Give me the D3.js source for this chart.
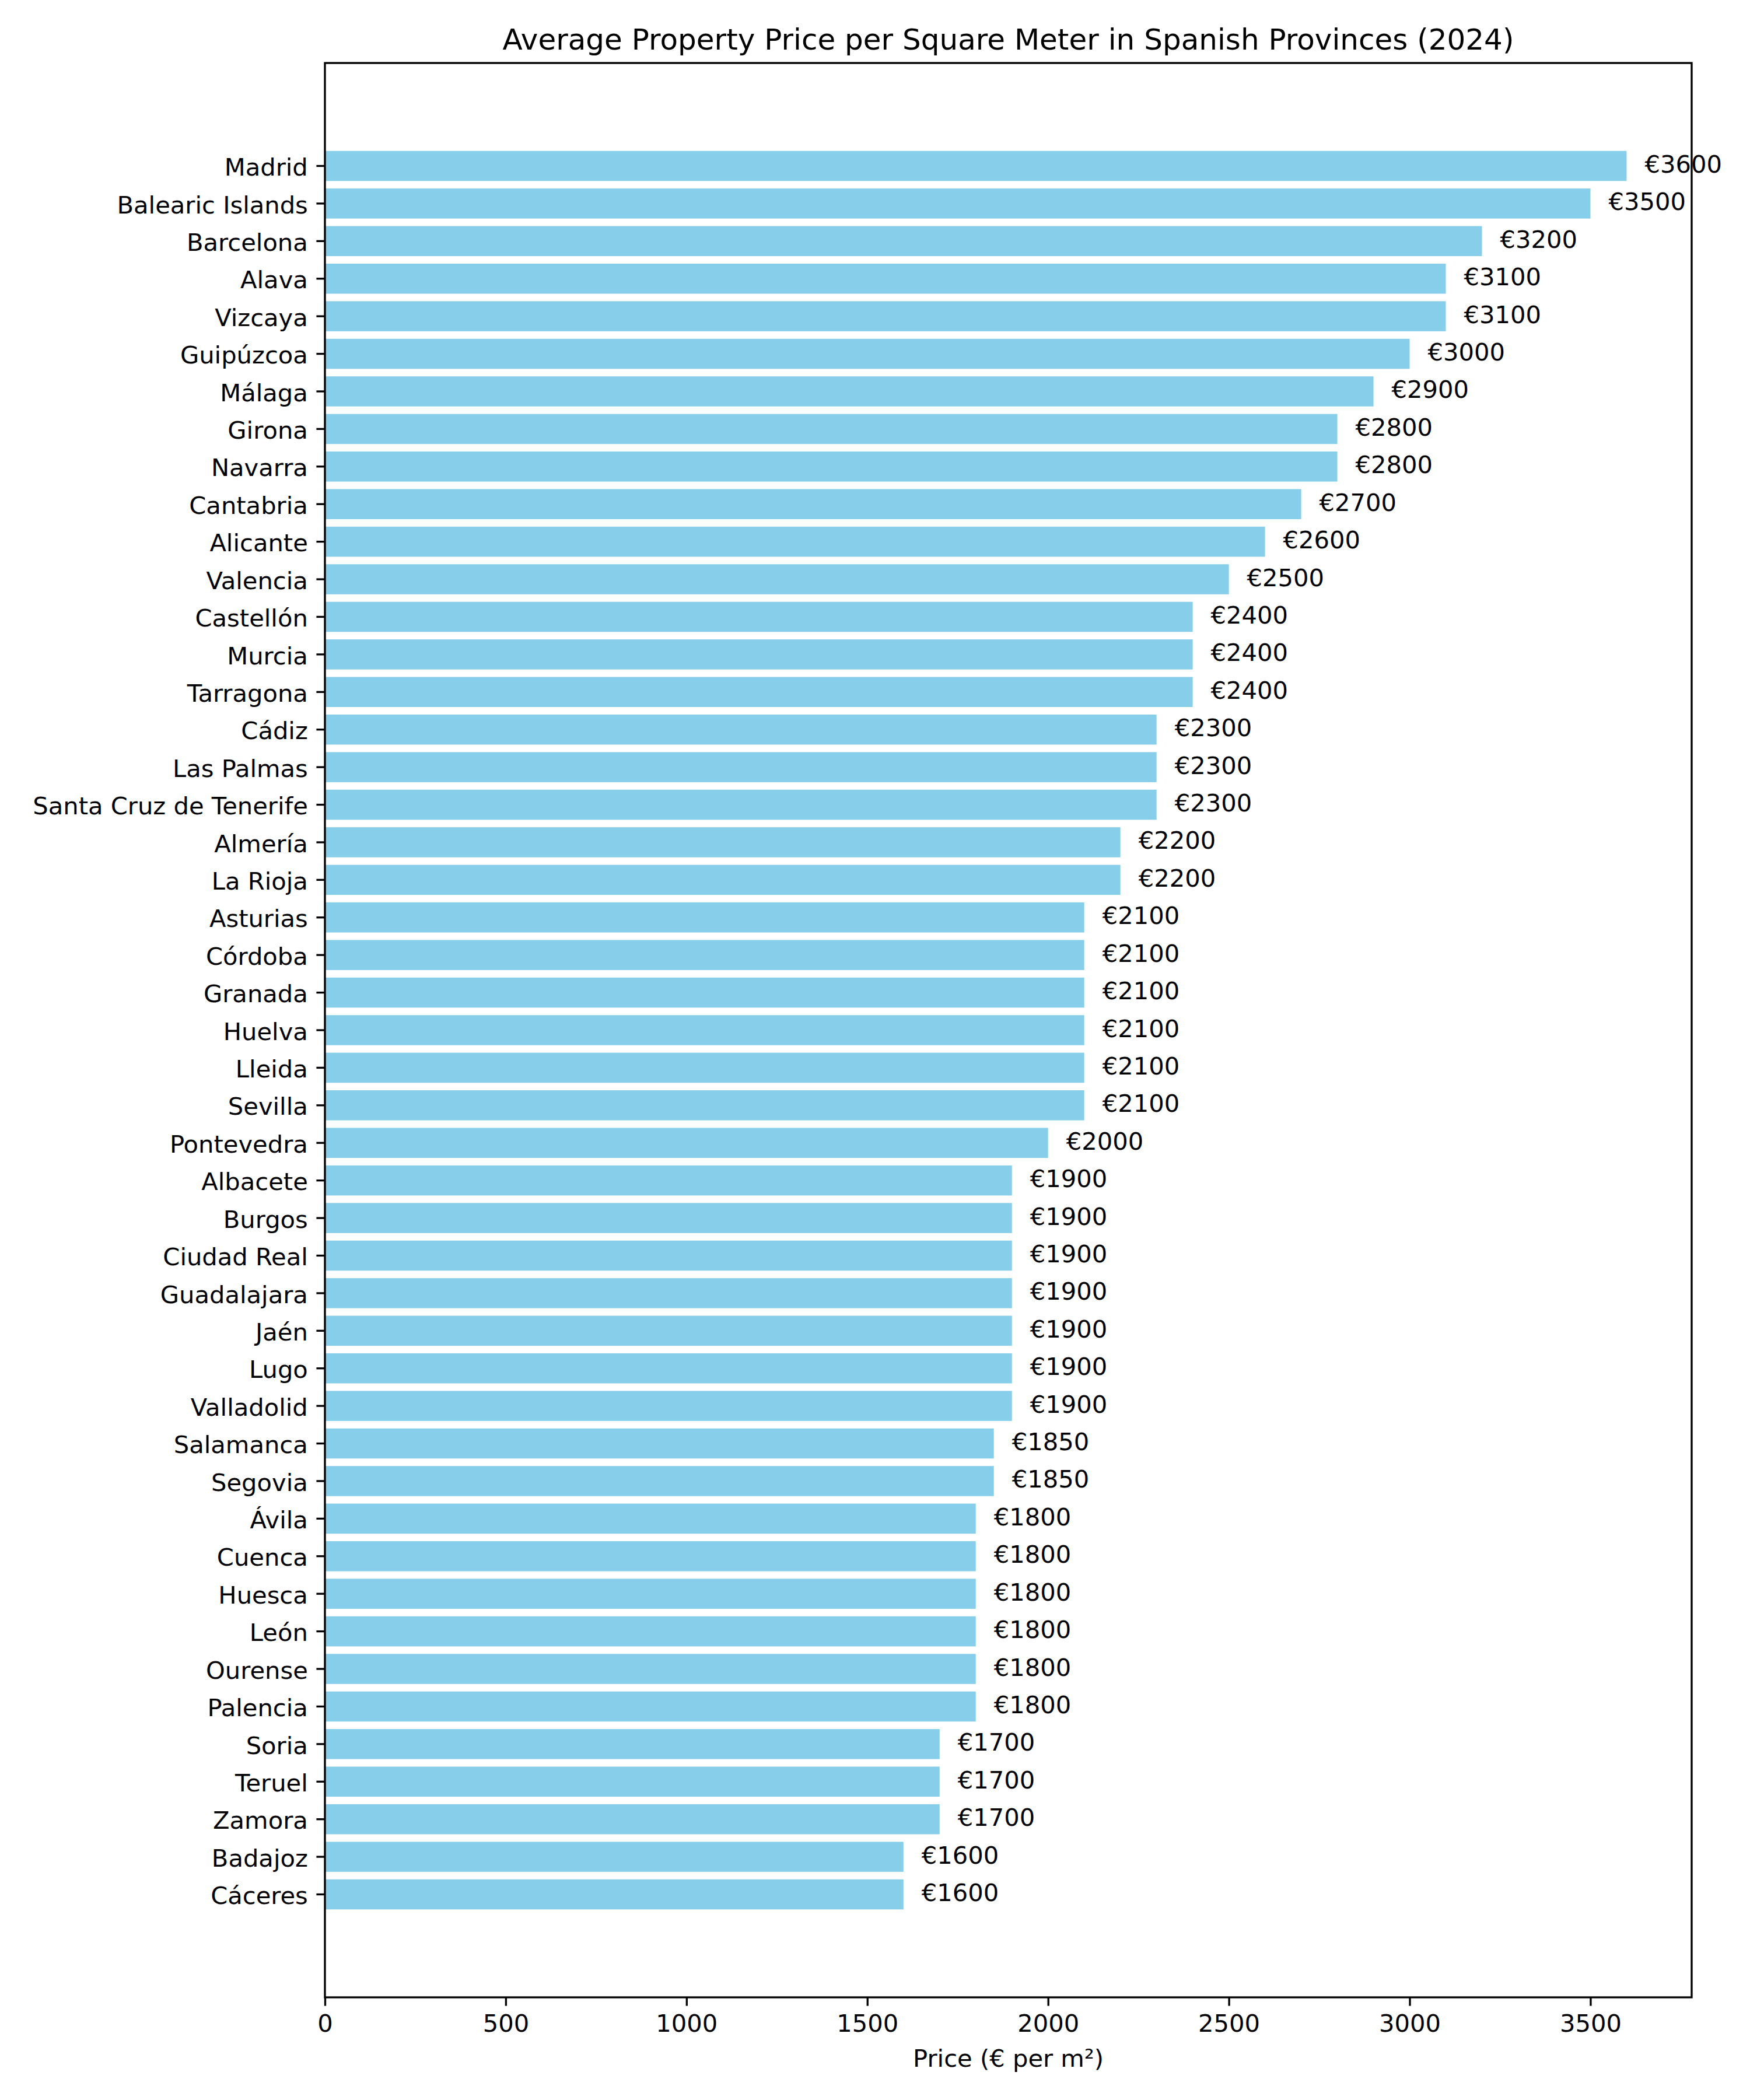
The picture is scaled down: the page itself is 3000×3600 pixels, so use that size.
<!DOCTYPE html>
<html>
<head>
<meta charset="utf-8">
<script src="https://cdn.jsdelivr.net/npm/d3@7"></script>
<style>
  body { margin: 0; background: #fff; }
  text { font-family: "DejaVu Sans", sans-serif; fill: #000; }
</style>
</head>
<body>
<div id="vis"></div>
<script>
// provinces, top to bottom
var provinces = ["Madrid", "Balearic Islands", "Barcelona", "Alava", "Vizcaya", "Guipúzcoa",
    "Málaga", "Girona", "Navarra", "Cantabria", "Alicante", "Valencia", "Castellón", "Murcia",
    "Tarragona", "Cádiz", "Las Palmas", "Santa Cruz de Tenerife", "Almería", "La Rioja",
    "Asturias", "Córdoba", "Granada", "Huelva", "Lleida", "Sevilla", "Pontevedra", "Albacete",
    "Burgos", "Ciudad Real", "Guadalajara", "Jaén", "Lugo", "Valladolid", "Salamanca", "Segovia",
    "Ávila", "Cuenca", "Huesca", "León", "Ourense", "Palencia", "Soria", "Teruel", "Zamora",
    "Badajoz", "Cáceres"];
var prices = [3600, 3500, 3200, 3100, 3100, 3000,
    2900, 2800, 2800, 2700, 2600, 2500, 2400, 2400,
    2400, 2300, 2300, 2300, 2200, 2200,
    2100, 2100, 2100, 2100, 2100, 2100, 2000, 1900,
    1900, 1900, 1900, 1900, 1900, 1900, 1850, 1850,
    1800, 1800, 1800, 1800, 1800, 1800, 1700, 1700, 1700,
    1600, 1600];
var xTicks = [0, 500, 1000, 1500, 2000, 2500, 3000, 3500];

const WIDTH = 3000;
const HEIGHT = 3600;
const LEFT = 557;
const RIGHT = 2900;
const TOP = 108;
const BOTTOM = 3424;
const FONT = 41.67;
const TICK_LEN = 14.6;
const LINE_W = 3.33;
const BAR_COLOR = "#87CEEB";

var data = provinces.map(function (p, i) { return { name: p, value: prices[i] }; });

var svg = d3.select("#vis").append("svg")
    .attr("width", WIDTH)
    .attr("height", HEIGHT);

var x = d3.scaleLinear()
    .domain([0, d3.max(prices) * 1.05])
    .range([LEFT, RIGHT]);

var y = d3.scaleBand()
    .domain(provinces)
    .range([TOP, BOTTOM])
    .paddingInner(0.2)
    .paddingOuter(2.34);

// bars
svg.append("g")
    .selectAll("rect")
    .data(data)
    .enter()
    .append("rect")
    .attr("x", x(0))
    .attr("y", function (d) { return y(d.name); })
    .attr("width", function (d) { return x(d.value) - x(0); })
    .attr("height", y.bandwidth())
    .attr("fill", BAR_COLOR);

// value labels
svg.append("g")
    .selectAll("text")
    .data(data)
    .enter()
    .append("text")
    .attr("x", function (d) { return x(d.value + 50); })
    .attr("y", function (d) { return y(d.name) + y.bandwidth() / 2 + 11.5; })
    .attr("font-size", FONT + "px")
    .text(function (d) { return "€" + d.value; });

// x axis
var xAxis = svg.append("g")
    .attr("transform", "translate(0," + BOTTOM + ")")
    .call(d3.axisBottom(x).tickValues(xTicks).tickFormat(d3.format("d"))
        .tickSize(TICK_LEN).tickPadding(TICK_LEN).tickSizeOuter(0));
xAxis.select(".domain").remove();
xAxis.selectAll("line").attr("stroke-width", LINE_W);
xAxis.selectAll("text")
    .attr("font-size", FONT + "px")
    .attr("font-family", "DejaVu Sans");

// y axis
var yAxis = svg.append("g")
    .attr("transform", "translate(" + LEFT + ",0)")
    .call(d3.axisLeft(y).tickSize(TICK_LEN).tickPadding(TICK_LEN).tickSizeOuter(0));
yAxis.select(".domain").remove();
yAxis.selectAll("line").attr("stroke-width", LINE_W);
yAxis.selectAll("text")
    .attr("font-size", FONT + "px")
    .attr("font-family", "DejaVu Sans")
    .attr("dy", "0.4em");

// frame
svg.append("rect")
    .attr("x", LEFT)
    .attr("y", TOP)
    .attr("width", RIGHT - LEFT)
    .attr("height", BOTTOM - TOP)
    .attr("fill", "none")
    .attr("stroke", "#000")
    .attr("stroke-width", LINE_W);

// title and label
svg.append("text")
    .attr("x", (LEFT + RIGHT) / 2)
    .attr("y", 85)
    .attr("text-anchor", "middle")
    .attr("font-size", "50px")
    .text("Average Property Price per Square Meter in Spanish Provinces (2024)");

svg.append("text")
    .attr("x", (LEFT + RIGHT) / 2)
    .attr("y", 3543)
    .attr("text-anchor", "middle")
    .attr("font-size", FONT + "px")
    .text("Price (€ per m²)");
</script>
</body>
</html>
